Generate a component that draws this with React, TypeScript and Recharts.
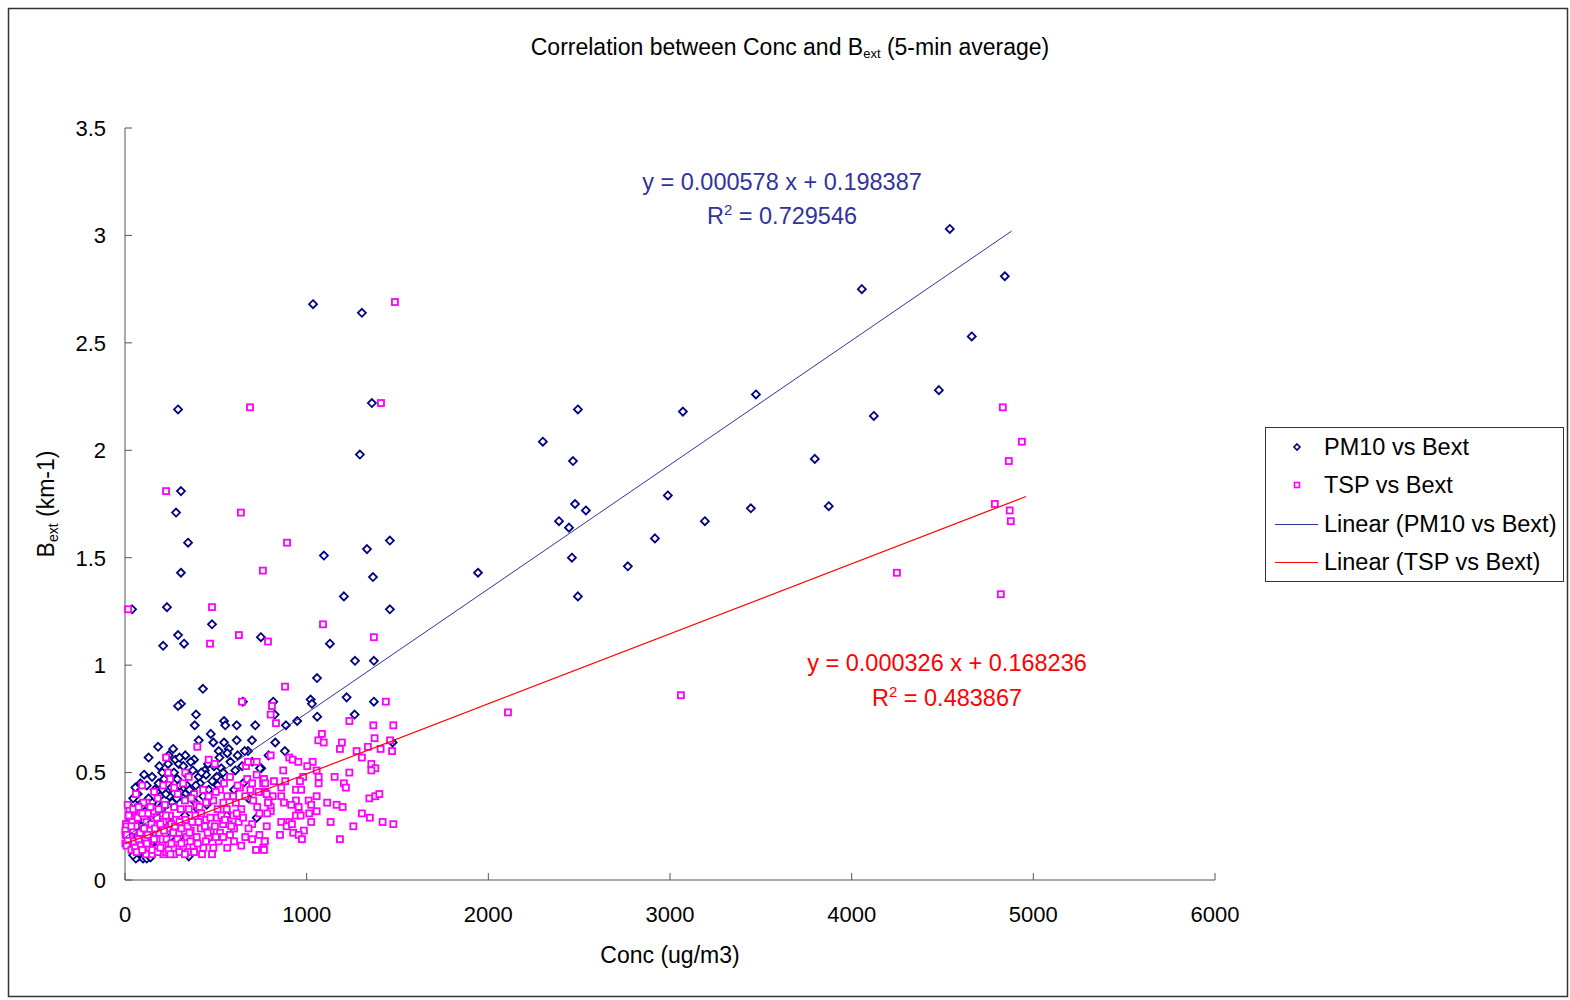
import { Scatter, ScatterChart, XAxis, YAxis } from 'recharts'

const FONT = '"Liberation Sans", Arial, sans-serif'
const AXIS_COLOR = '#555'
const PM10_COLOR = '#000080'
const TSP_COLOR = '#ff00ff'
const PM10_TREND_COLOR = '#333399'
const TSP_TREND_COLOR = '#ff0000'

const xTicks = [0, 1000, 2000, 3000, 4000, 5000, 6000]
const yTicks = [0, 0.5, 1, 1.5, 2, 2.5, 3, 3.5]

// [conc ug/m3, Bext km-1]
const pm10Points: [number, number][] = [
  [39, 1.26], [292, 2.19], [308, 1.81], [281, 1.71], [347, 1.57], [308, 1.43], [231, 1.27],
  [292, 1.14], [325, 1.1], [210, 1.09], [429, 0.89], [308, 0.82], [292, 0.81], [479, 1.19],
  [1035, 2.68], [1304, 2.64], [1359, 2.22], [1293, 1.98], [1332, 1.54], [1095, 1.51],
  [1365, 1.41], [1458, 1.58], [1458, 1.26], [1205, 1.32], [1128, 1.1], [1266, 1.02],
  [1370, 1.02], [748, 1.13], [1057, 0.94], [649, 0.83],
  [816, 0.83], [1022, 0.84], [1029, 0.82], [1220, 0.85], [1370, 0.83], [1264, 0.77],
  [824, 0.77], [886, 0.72], [948, 0.74], [1058, 0.76], [827, 0.64], [1473, 0.64], [750, 0.52],
  [1943, 1.43], [2300, 2.04], [2389, 1.67], [2444, 1.64], [2466, 1.95], [2460, 1.5],
  [2477, 1.75], [2493, 2.19], [2537, 1.72], [2493, 1.32], [2768, 1.46], [2917, 1.59],
  [2988, 1.79], [3071, 2.18], [3192, 1.67], [3445, 1.73], [3473, 2.26], [3797, 1.96],
  [3874, 1.74], [4056, 2.75], [4122, 2.16], [4480, 2.28], [4540, 3.03], [4661, 2.53],
  [4843, 2.81],
  [391, 0.77], [384, 0.72], [545, 0.74], [552, 0.72], [615, 0.72], [717, 0.72], [472, 0.68],
  [615, 0.65], [406, 0.65], [486, 0.64], [545, 0.64], [516, 0.6], [571, 0.61], [563, 0.59],
  [699, 0.65], [677, 0.6], [182, 0.62], [130, 0.57], [277, 0.56], [332, 0.58], [296, 0.54],
  [380, 0.56], [189, 0.53], [237, 0.54], [321, 0.53], [362, 0.55], [373, 0.51], [457, 0.54],
  [439, 0.51], [607, 0.51], [659, 0.6], [743, 0.52], [105, 0.49], [149, 0.48], [57, 0.43],
  [288, 0.47], [406, 0.48], [446, 0.49], [505, 0.48], [552, 0.48], [413, 0.45], [461, 0.42],
  [340, 0.44], [163, 0.42], [207, 0.42], [303, 0.41], [193, 0.39], [244, 0.39], [46, 0.36],
  [376, 0.37], [332, 0.4], [725, 0.29], [35, 0.31], [351, 0.11], [64, 0.12], [119, 0.12],
  [75, 0.11], [140, 0.3], [200, 0.33], [260, 0.36], [320, 0.38], [90, 0.25], [60, 0.2],
  [30, 0.17], [110, 0.14], [160, 0.22], [230, 0.28], [480, 0.46], [530, 0.52], [90, 0.11],
  [100, 0.1], [130, 0.13], [170, 0.15], [250, 0.2], [20, 0.22], [10, 0.26], [50, 0.3],
  [80, 0.35], [25, 0.34], [455, 0.19], [600, 0.42], [650, 0.45], [700, 0.55], [790, 0.58],
  [880, 0.6], [680, 0.38], [560, 0.3],
  [45, 0.38], [70, 0.4], [85, 0.45], [120, 0.44], [130, 0.38], [175, 0.36], [185, 0.45],
  [215, 0.47], [225, 0.4], [255, 0.43], [270, 0.5], [285, 0.38], [300, 0.44], [340, 0.49],
  [355, 0.42], [390, 0.44], [420, 0.5], [430, 0.39], [490, 0.53], [510, 0.44], [520, 0.57],
  [540, 0.5], [580, 0.55], [620, 0.58], [645, 0.53], [265, 0.61], [300, 0.57], [240, 0.58],
  [205, 0.5], [150, 0.36], [110, 0.32], [70, 0.28], [40, 0.25], [30, 0.2], [55, 0.16],
  [80, 0.13], [150, 0.18], [200, 0.23], [270, 0.25], [330, 0.3], [400, 0.33], [450, 0.35],
  [250, 0.15], [300, 0.2], [120, 0.1], [140, 0.105], [60, 0.1], [45, 0.115],
]

const tspPoints: [number, number][] = [
  [17, 1.26], [226, 1.81], [479, 1.27], [468, 1.1], [688, 2.2], [638, 1.71], [627, 1.14],
  [759, 1.44], [787, 1.11], [892, 1.57], [1486, 2.69], [1409, 2.22], [1090, 1.19], [1370, 1.13],
  [881, 0.9], [644, 0.83], [809, 0.81], [398, 0.62], [2108, 0.78], [3060, 0.86], [4249, 1.43],
  [4832, 2.2], [4865, 1.95], [4937, 2.04], [4788, 1.75], [4870, 1.72], [4876, 1.67], [4821, 1.33],
  [802, 0.77], [831, 0.73], [1436, 0.83], [1235, 0.74], [1367, 0.72], [1477, 0.72], [1084, 0.68],
  [1064, 0.65], [1094, 0.64], [1194, 0.64], [1183, 0.61], [1374, 0.66], [1459, 0.65], [1470, 0.6],
  [1407, 0.61], [1337, 0.62], [1275, 0.6], [1304, 0.57], [802, 0.58], [904, 0.57], [923, 0.56],
  [954, 0.55], [1033, 0.55], [1003, 0.53], [1055, 0.51], [871, 0.51], [1356, 0.54], [1378, 0.52],
  [1356, 0.51], [1235, 0.5], [1154, 0.48], [981, 0.48], [1066, 0.48], [1066, 0.45], [1205, 0.45],
  [1216, 0.43], [761, 0.47], [820, 0.46], [882, 0.46], [963, 0.46], [761, 0.45], [860, 0.43],
  [941, 0.42], [970, 0.42], [772, 0.41], [813, 0.39], [860, 0.39], [791, 0.37], [875, 0.36],
  [941, 0.37], [1011, 0.37], [1055, 0.39], [1113, 0.36], [1165, 0.35], [1198, 0.34], [1345, 0.38],
  [1378, 0.39], [1400, 0.4], [802, 0.34], [915, 0.35], [956, 0.34], [1025, 0.35], [802, 0.32],
  [783, 0.31], [956, 0.31], [1014, 0.31], [1055, 0.32], [941, 0.3], [967, 0.3], [1304, 0.31],
  [1348, 0.29], [860, 0.27], [904, 0.27], [1025, 0.27], [1132, 0.27], [1418, 0.27], [1477, 0.26],
  [1257, 0.25], [780, 0.25], [890, 0.25], [919, 0.26], [926, 0.22], [985, 0.23], [853, 0.21],
  [956, 0.21], [974, 0.19], [1183, 0.19], [769, 0.18], [761, 0.15],
  [226, 0.57], [461, 0.56], [494, 0.54], [237, 0.5], [332, 0.5], [351, 0.48], [94, 0.44],
  [248, 0.47], [578, 0.48], [673, 0.47], [725, 0.49], [765, 0.47], [666, 0.53], [725, 0.55],
  [677, 0.55], [772, 0.45], [523, 0.42], [563, 0.39], [633, 0.43], [662, 0.39], [706, 0.37],
  [728, 0.34], [780, 0.4], [787, 0.36], [119, 0.36], [101, 0.36], [24, 0.33], [83, 0.31],
  [127, 0.31], [160, 0.32], [204, 0.31], [248, 0.3], [307, 0.33], [351, 0.33], [395, 0.35],
  [446, 0.36], [486, 0.37], [541, 0.36], [5, 0.26], [9, 0.25], [53, 0.28], [119, 0.27],
  [156, 0.28], [211, 0.27], [281, 0.28], [332, 0.28], [387, 0.3], [446, 0.28], [505, 0.29],
  [596, 0.3], [626, 0.27], [571, 0.26], [2, 0.23], [46, 0.23], [83, 0.22], [138, 0.23],
  [189, 0.22], [237, 0.24], [296, 0.22], [362, 0.23], [417, 0.24], [472, 0.23], [523, 0.22],
  [3, 0.21], [28, 0.2], [2, 0.17], [50, 0.18], [112, 0.19], [174, 0.19], [229, 0.19],
  [288, 0.19], [340, 0.2], [395, 0.2], [461, 0.2], [516, 0.18], [578, 0.21], [662, 0.2],
  [721, 0.14], [765, 0.14], [769, 0.18], [9, 0.16], [83, 0.16], [134, 0.15], [207, 0.16],
  [266, 0.15], [321, 0.15], [376, 0.16], [431, 0.15], [486, 0.15], [563, 0.15], [116, 0.12],
  [149, 0.12], [211, 0.12], [270, 0.12], [424, 0.12], [479, 0.12], [226, 0.13], [299, 0.13],
  [600, 0.24], [640, 0.33], [700, 0.26], [740, 0.31], [690, 0.42], [560, 0.33], [610, 0.36],
  [540, 0.26], [430, 0.42], [380, 0.4], [290, 0.4], [180, 0.38], [60, 0.4], [30, 0.29], [15, 0.19],
  [20, 0.3], [40, 0.27], [60, 0.25], [70, 0.29], [95, 0.31], [105, 0.24], [125, 0.21],
  [145, 0.26], [165, 0.24], [175, 0.29], [195, 0.26], [215, 0.23], [225, 0.3], [255, 0.26],
  [265, 0.22], [275, 0.25], [300, 0.27], [310, 0.24], [345, 0.25], [355, 0.22], [370, 0.27],
  [405, 0.27], [420, 0.31], [440, 0.25], [455, 0.22], [470, 0.29], [495, 0.25], [510, 0.33],
  [530, 0.3], [550, 0.28], [585, 0.25], [615, 0.31], [650, 0.29], [680, 0.24], [35, 0.14],
  [55, 0.15], [65, 0.13], [95, 0.14], [150, 0.14], [180, 0.13], [195, 0.15], [240, 0.14],
  [255, 0.17], [310, 0.17], [345, 0.13], [360, 0.18], [400, 0.17], [445, 0.18], [500, 0.2],
  [540, 0.2], [600, 0.18], [640, 0.16], [700, 0.19], [740, 0.21], [15, 0.35], [45, 0.33],
  [75, 0.34], [140, 0.34], [185, 0.33], [220, 0.35], [270, 0.34], [330, 0.37], [365, 0.38],
  [410, 0.34], [460, 0.39], [500, 0.41], [545, 0.45], [595, 0.39], [620, 0.44], [700, 0.45],
  [735, 0.41], [160, 0.41], [210, 0.44], [270, 0.43], [320, 0.45], [75, 0.19], [120, 0.17],
  [160, 0.19], [250, 0.12], [330, 0.12], [380, 0.13], [10, 0.21], [35, 0.25],
]

// trendline end points as drawn in the chart
const pm10Trend: [number, number][] = [[0, 0.198], [4880, 3.02]]
const tspTrend: [number, number][] = [[0, 0.168], [4960, 1.785]]

const toXY = (pts: [number, number][]) => pts.map(([x, y]) => ({ x, y }))

function Diamond(props: any) {
  const { cx, cy } = props
  const r = 4
  return (
    <polygon
      points={`${cx},${cy - r} ${cx + r},${cy} ${cx},${cy + r} ${cx - r},${cy}`}
      fill="#fff"
      stroke={PM10_COLOR}
      strokeWidth={1.8}
    />
  )
}

function Square(props: any) {
  const { cx, cy } = props
  return (
    <rect x={cx - 3} y={cy - 3} width={6} height={6} fill="#fff" stroke={TSP_COLOR} strokeWidth={1.8} />
  )
}

function LegendDiamond({ cx, cy }: { cx: number; cy: number }) {
  const r = 3
  return (
    <polygon
      points={`${cx},${cy - r} ${cx + r},${cy} ${cx},${cy + r} ${cx - r},${cy}`}
      fill="#fff"
      stroke={PM10_COLOR}
      strokeWidth={1.6}
    />
  )
}

const NoDot = () => <g />

function YLabel(props: any) {
  const vb = props.viewBox ?? { x: 65, y: 128, width: 60, height: 752 }
  const cx = vb.x - 19
  const cy = vb.y + vb.height / 2
  return (
    <text
      x={cx}
      y={cy}
      transform={`rotate(-90 ${cx} ${cy})`}
      textAnchor="middle"
      dy={8}
      fontSize={23}
      fontFamily={FONT}
      fill="#000"
    >
      B<tspan fontSize={14} dy={4}>ext</tspan>
      <tspan dy={-4}> (km-1)</tspan>
    </text>
  )
}

function Overlay() {
  const txt = { fontFamily: FONT, fill: '#000' }
  return (
    <svg width={1570} height={1000} style={{ position: 'absolute', left: 0, top: 0, pointerEvents: 'none' }}>
      <rect x={8.5} y={8.5} width={1559} height={988} fill="none" stroke="#333" strokeWidth={1.5} />
      <text x={790} y={55} textAnchor="middle" fontSize={23} {...txt}>
        Correlation between Conc and B<tspan fontSize={13} dy={3}>ext</tspan>
        <tspan dy={-3}> (5-min average)</tspan>
      </text>

      <text x={782} y={190} textAnchor="middle" fontSize={23.5} fontFamily={FONT} fill={PM10_TREND_COLOR}>
        y = 0.000578 x + 0.198387
      </text>
      <text x={782} y={224} textAnchor="middle" fontSize={23.5} fontFamily={FONT} fill={PM10_TREND_COLOR}>
        R<tspan fontSize={15} dy={-9}>2</tspan>
        <tspan dy={9}> = 0.729546</tspan>
      </text>
      <text x={947} y={671} textAnchor="middle" fontSize={23.5} fontFamily={FONT} fill={TSP_TREND_COLOR}>
        y = 0.000326 x + 0.168236
      </text>
      <text x={947} y={706} textAnchor="middle" fontSize={23.5} fontFamily={FONT} fill={TSP_TREND_COLOR}>
        R<tspan fontSize={15} dy={-9}>2</tspan>
        <tspan dy={9}> = 0.483867</tspan>
      </text>

      <g>
        <rect x={1265.5} y={427.5} width={298} height={154} fill="#fff" stroke="#333" strokeWidth={1} />
        <LegendDiamond cx={1297} cy={447} />
        <text x={1324} y={455} fontSize={23.5} {...txt}>PM10 vs Bext</text>
        <rect x={1294.5} y={482.5} width={5} height={5} fill="#fff" stroke={TSP_COLOR} strokeWidth={1.6} />
        <text x={1324} y={493} fontSize={23.5} {...txt}>TSP vs Bext</text>
        <line x1={1275} x2={1318} y1={524.5} y2={524.5} stroke={PM10_TREND_COLOR} strokeWidth={1} />
        <text x={1324} y={532} fontSize={23.5} {...txt}>Linear (PM10 vs Bext)</text>
        <line x1={1275} x2={1318} y1={562.5} y2={562.5} stroke={TSP_TREND_COLOR} strokeWidth={1} />
        <text x={1324} y={570} fontSize={23.5} {...txt}>Linear (TSP vs Bext)</text>
      </g>
    </svg>
  )
}

export default function App() {
  return (
    <div style={{ position: 'absolute', left: 0, top: 0, width: 1570, height: 1000, background: '#fff' }}>
      <ScatterChart width={1570} height={1000} margin={{ top: 128, right: 355, bottom: 80, left: 65 }}>
        <XAxis
          type="number"
          dataKey="x"
          domain={[0, 6000]}
          ticks={xTicks}
          interval={0}
          height={40}
          tickSize={-7}
          tickMargin={33}
          axisLine={{ stroke: AXIS_COLOR }}
          tickLine={{ stroke: AXIS_COLOR }}
          tick={{ fill: '#000', fontSize: 22, fontFamily: FONT }}
          label={{ value: 'Conc (ug/m3)', position: 'bottom', offset: 27, fill: '#000', fontSize: 23, fontFamily: FONT }}
        />
        <YAxis
          type="number"
          dataKey="y"
          domain={[0, 3.5]}
          ticks={yTicks}
          interval={0}
          width={60}
          tickSize={-7}
          tickMargin={26}
          axisLine={{ stroke: AXIS_COLOR }}
          tickLine={{ stroke: AXIS_COLOR }}
          tick={{ fill: '#000', fontSize: 22, fontFamily: FONT }}
          label={<YLabel />}
        />
        <Scatter name="PM10 vs Bext" data={toXY(pm10Points)} shape={<Diamond />} isAnimationActive={false} />
        <Scatter name="TSP vs Bext" data={toXY(tspPoints)} shape={<Square />} isAnimationActive={false} />
        <Scatter
          name="Linear (PM10 vs Bext)"
          data={toXY(pm10Trend)}
          line={{ stroke: PM10_TREND_COLOR, strokeWidth: 1 }}
          shape={<NoDot />}
          isAnimationActive={false}
        />
        <Scatter
          name="Linear (TSP vs Bext)"
          data={toXY(tspTrend)}
          line={{ stroke: TSP_TREND_COLOR, strokeWidth: 1.2 }}
          shape={<NoDot />}
          isAnimationActive={false}
        />
      </ScatterChart>
      <Overlay />
    </div>
  )
}
